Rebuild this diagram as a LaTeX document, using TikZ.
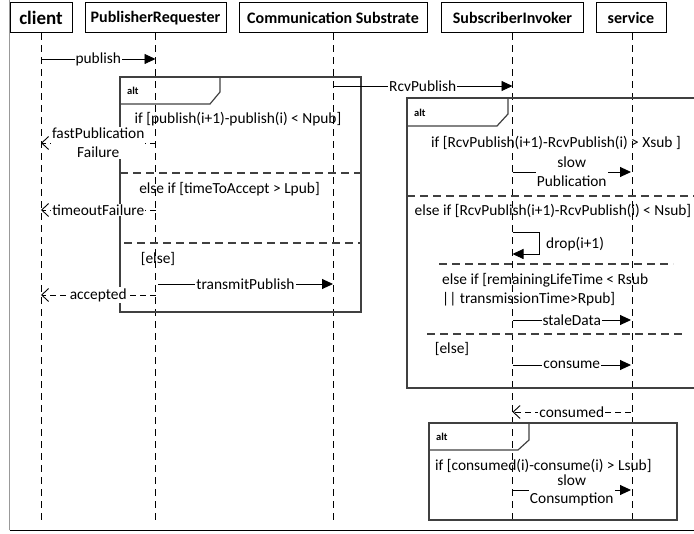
\documentclass[tikz,border=0pt]{standalone}
\usepackage{fontspec}
\setmainfont{Carlito}
\usetikzlibrary{arrows.meta}
\begin{document}
\begin{tikzpicture}[x=1pt,y=-1pt,
  every node/.style={font=\fontsize{15.4}{19}\selectfont, inner sep=1pt},
  head/.style={draw=black, line width=1pt, fill=white, font=\bfseries\fontsize{16}{18}\selectfont, inner sep=0pt, minimum height=30pt},
  life/.style={line width=1pt, dash pattern=on 7pt off 5pt},
  frame/.style={draw=black!75, line width=1.2pt},
  sep/.style={draw=black!75, line width=1.1pt, dash pattern=on 8pt off 5pt},
  msg/.style={line width=0.9pt, -{Triangle[length=11pt,width=10pt]}},
  ret/.style={line width=0.9pt, dash pattern=on 6pt off 4pt, -{Straight Barb[length=7pt,width=13pt,line width=0.9pt]}},
  lbl/.style={fill=white, inner sep=1pt},
  alttag/.style={font=\bfseries\fontsize{10.5}{12}\selectfont, anchor=west, inner sep=0pt},
  guard/.style={inner sep=0pt}
]
\useasboundingbox (0,0) rectangle (694,534);
\clip (0,0) rectangle (694,534);

% border
\draw[black!40, line width=1pt] (9.5,0) -- (9.5,530.5);
\draw[black, line width=1.3pt] (9.5,530.5) -- (694,530.5);

% heads
\node[head, minimum width=62pt, font=\bfseries\fontsize{19}{20}\selectfont] (cl) at (41,18) {client};
\node[head, minimum width=141pt] (pr) at (155.5,18) {PublisherRequester};
\node[head, minimum width=188pt] (cs) at (333,18) {Communication Substrate};
\node[head, minimum width=142pt] (si) at (512.5,18) {SubscriberInvoker};
\node[head, minimum width=70pt] (sv) at (631,18) {service};

\coordinate (clE) at (41,520);
\coordinate (prE) at (155,520);
\coordinate (csE) at (333,520);
\coordinate (siE) at (512,520);
\coordinate (svE) at (632,520);
\draw[life] (cl.south -| clE) -- (clE);
\draw[life] (pr.south -| prE) -- (prE);
\draw[life] (cs.south -| csE) -- (csE);
\draw[life] (si.south -| siE) -- (siE);
\draw[life] (sv.south -| svE) -- (svE);

% left alt frame
\draw[frame] (120,77) rectangle (361,312);
\draw[frame] (120,104) -- (210,104) -- (220,92) -- (220,77);
\node[alttag] at (127,91) {alt};
\draw[sep] (120,173) -- (361,173);
\draw[sep] (124,243) -- (361,243);
\node[guard] at (238,119) {if [publish(i+1)-publish(i) < Npub]};
\node[guard] at (229.5,189) {else if [timeToAccept > Lpub]};
\node[guard] at (158,259) {[else]};

% right alt frame
\draw[frame] (407,98) rectangle (720,388);
\draw[frame] (407,126) -- (497,126) -- (508,114) -- (508,98);
\node[alttag] at (414,113) {alt};
\draw[sep] (407,196) -- (694,196);
\draw[sep] (439,264) -- (673,264);
\draw[sep] (427,334) -- (683,334);
\node[guard] at (556,143) {if [RcvPublish(i+1)-RcvPublish(i) > Xsub ]};
\node[guard] at (553,211) {else if [RcvPublish(i+1)-RcvPublish(i) < Nsub]};
\node[guard, anchor=west, align=left] at (442,290) {else if [remainingLifeTime < Rsub\\|| transmissionTime>Rpub]};
\node[guard] at (452,349) {[else]};

% bottom alt frame
\draw[frame] (429,423) rectangle (677,520);
\draw[frame] (429,450) -- (518,450) -- (529,440) -- (529,423);
\node[alttag] at (436,437) {alt};
\node[guard, anchor=west] at (435,466) {if [consumed(i)-consume(i) > Lsub]};

% messages
\draw[msg] (cl |- 0,59) -- node[lbl] {publish} (pr |- 0,59);
\draw[msg] (cs |- 0,86) -- node[lbl] {RcvPublish} (si |- 0,86);
\draw[ret] (pr |- 0,143) -- node[lbl, align=center] {fastPublication\\Failure} (cl |- 0,143);
\draw[ret] (pr |- 0,210) -- node[lbl] {timeoutFailure} (cl |- 0,210);
\draw[msg] (158,284) -- node[lbl] {transmitPublish} (cs |- 0,284);
\draw[ret] (pr |- 0,295) -- node[lbl] {accepted} (cl |- 0,295);

\draw[msg] (si |- 0,172) -- node[lbl, align=center] {slow\\Publication} (sv |- 0,172);
\draw[msg] (si |- 0,232) -- (539,232) -- (539,254) -- (si |- 0,254);
\node[anchor=west] at (545,244) {drop(i+1)};
\draw[msg] (si |- 0,320) -- node[lbl] {staleData} (sv |- 0,320);
\draw[msg] (si |- 0,365) -- node[lbl] {consume} (sv |- 0,365);
\draw[ret] (sv |- 0,412) -- node[lbl] {consumed} (si |- 0,412);
\draw[msg] (si |- 0,490) -- node[lbl, align=center, font=\fontsize{15.4}{18}\selectfont] {slow\\Consumption} (sv |- 0,490);
\end{tikzpicture}
\end{document}
